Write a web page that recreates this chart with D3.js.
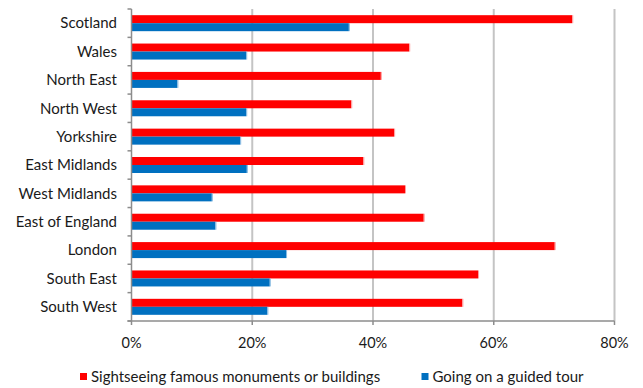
<!DOCTYPE html>
<html>
<head>
<meta charset="utf-8">
<script src="https://cdn.jsdelivr.net/npm/d3@7"></script>
<style>
  html, body { margin: 0; padding: 0; background: #fff; }
  svg text { font-family: Lato, "Open Sans", sans-serif; fill: #1a1a1a; }
</style>
</head>
<body>
<svg id="chart" width="643" height="388"></svg>
<script>
// Regions, top to bottom
const regions = ["Scotland", "Wales", "North East", "North West", "Yorkshire",
  "East Midlands", "West Midlands", "East of England", "London", "South East", "South West"];

// Share of visitors (%) per activity
const sightseeing = [73.0, 46.0, 41.3, 36.4, 43.5, 38.4, 45.3, 48.4, 70.1, 57.4, 54.8];
const guidedTour  = [36.0, 19.0, 7.6, 19.0, 18.0, 19.1, 13.3, 13.9, 25.6, 22.9, 22.5];

const seriesNames = ["Sightseeing famous monuments or buildings", "Going on a guided tour"];
const seriesColors = ["#ff0000", "#0070c0"];
const seriesStrokes = ["#ff9a9a", "#7fb6e0"];

const xTicks = [0, 20, 40, 60, 80];
const xTickLabels = ["0%", "20%", "40%", "60%", "80%"];

const svg = d3.select("#chart");
const margin = { left: 131.5, right: 28.5, top: 9, bottom: 67 };
const W = 643, H = 388;

const x = d3.scaleLinear().domain([0, 80]).range([margin.left, W - margin.right]);
const y = d3.scaleBand().domain(regions)
  .range([margin.top, H - margin.bottom])
  .paddingInner(0.436).paddingOuter(0.218);
const ySub = d3.scaleBand().domain([0, 1]).range([0, y.bandwidth()]);

// Vertical gridlines
svg.append("g").selectAll("line").data(xTicks.slice(1)).join("line")
  .attr("x1", d => x(d)).attr("x2", d => x(d))
  .attr("y1", margin.top).attr("y2", H - margin.bottom)
  .attr("stroke", "#c4c4c4").attr("stroke-width", 2);

// Bars
const rows = regions.map((r, i) => ({ region: r, values: [sightseeing[i], guidedTour[i]] }));
const groups = svg.append("g").selectAll("g").data(rows).join("g")
  .attr("transform", d => `translate(0,${y(d.region)})`);
groups.selectAll("rect").data(d => d.values.map((v, k) => ({ v, k }))).join("rect")
  .attr("x", x(0))
  .attr("y", d => ySub(d.k))
  .attr("width", d => x(d.v) - x(0))
  .attr("height", ySub.bandwidth())
  .attr("fill", d => seriesColors[d.k]);
// soft edge on the bar ends
groups.selectAll("line.edge").data(d => d.values.map((v, k) => ({ v, k }))).join("line")
  .attr("class", "edge")
  .attr("x1", d => x(d.v) + 0.5).attr("x2", d => x(d.v) + 0.5)
  .attr("y1", d => ySub(d.k)).attr("y2", d => ySub(d.k) + ySub.bandwidth())
  .attr("stroke", d => seriesStrokes[d.k]).attr("stroke-width", 1);

// Left axis line with tick marks at band boundaries
const axisColor = "#8c8c8c";
const yTop = margin.top, yBot = H - margin.bottom;
svg.append("line").attr("x1", x(0)).attr("x2", x(0)).attr("y1", yTop).attr("y2", yBot)
  .attr("stroke", axisColor).attr("stroke-width", 1.5);
const bounds = d3.range(regions.length + 1).map(i => yTop + i * y.step());
svg.append("g").selectAll("line").data(bounds).join("line")
  .attr("x1", x(0) - 4).attr("x2", x(0))
  .attr("y1", d => d).attr("y2", d => d)
  .attr("stroke", axisColor).attr("stroke-width", 1.5);

// Bottom axis line with tick marks
svg.append("line").attr("x1", x(0) - 4).attr("x2", x(80)).attr("y1", yBot).attr("y2", yBot)
  .attr("stroke", axisColor).attr("stroke-width", 1.5);
svg.append("g").selectAll("line").data(xTicks).join("line")
  .attr("x1", d => x(d)).attr("x2", d => x(d))
  .attr("y1", yBot).attr("y2", yBot + 4)
  .attr("stroke", axisColor).attr("stroke-width", 1.5);

// Category labels
svg.append("g").selectAll("text").data(regions).join("text")
  .attr("x", 117)
  .attr("y", d => y(d) - y.step() * 0.218 + y.step() / 2)
  .attr("dy", "0.35em")
  .attr("text-anchor", "end")
  .style("font-size", "15px")
  .text(d => d);

// Tick labels
svg.append("g").selectAll("text").data(xTicks).join("text")
  .attr("x", d => x(d))
  .attr("y", 348)
  .attr("text-anchor", "middle")
  .style("font-size", "14.5px")
  .text((d, i) => xTickLabels[i]);

// Legend
const legendX = [80, 421.5];
const legend = svg.append("g").selectAll("g").data(seriesNames).join("g")
  .attr("transform", (d, i) => `translate(${legendX[i]},373)`);
legend.append("rect").attr("width", 7).attr("height", 7).attr("fill", (d, i) => seriesColors[i]);
legend.append("text").attr("x", 11).attr("y", 3.5).attr("dy", "0.36em")
  .style("font-size", "15px").text(d => d);
</script>
</body>
</html>
